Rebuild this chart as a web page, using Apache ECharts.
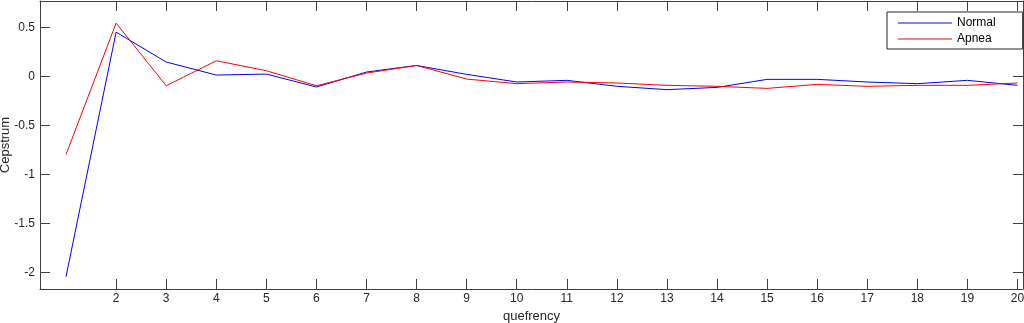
<!DOCTYPE html>
<html>
<head>
<meta charset="utf-8">
<script src="https://cdn.jsdelivr.net/npm/echarts@6/dist/echarts.min.js"></script>
<style>
  html, body { margin: 0; padding: 0; background: #fff; }
  #chart { width: 1024px; height: 323px; }
</style>
</head>
<body>
<div id="chart"></div>
<script>
// quefrency index 1..20
const quefrency = [1, 2, 3, 4, 5, 6, 7, 8, 9, 10, 11, 12, 13, 14, 15, 16, 17, 18, 19, 20];
const normal = [-2.04, 0.455, 0.15, 0.017, 0.027, -0.105, 0.048, 0.115, 0.024, -0.054,
  -0.037, -0.098, -0.132, -0.109, -0.027, -0.027, -0.054, -0.071, -0.037, -0.088];
const apnea = [-0.794, 0.547, -0.092, 0.163, 0.061, -0.092, 0.037, 0.115, -0.024, -0.071,
  -0.054, -0.064, -0.088, -0.098, -0.119, -0.078, -0.098, -0.088, -0.088, -0.064];
const xTicks = [2, 3, 4, 5, 6, 7, 8, 9, 10, 11, 12, 13, 14, 15, 16, 17, 18, 19, 20];
const yTicks = [-2, -1.5, -1, -0.5, 0, 0.5];

const axisColor = "#404040";
const textStyle = { color: "#262626", fontFamily: "Liberation Sans, Arial", fontSize: 12 };
const nameStyle = { color: "#262626", fontFamily: "Liberation Sans, Arial", fontSize: 13 };

const xBase = {
  type: "value",
  min: 0.48,
  max: 20.11,
  axisLine: { show: true, onZero: false, lineStyle: { color: axisColor, width: 1 } },
  axisTick: { show: true, inside: true, length: 10, customValues: xTicks, lineStyle: { color: axisColor } },
  splitLine: { show: false },
};
const yBase = {
  type: "value",
  min: -2.167,
  max: 0.773,
  axisLine: { show: true, onZero: false, lineStyle: { color: axisColor, width: 1 } },
  axisTick: { show: true, inside: true, length: 10, customValues: yTicks, lineStyle: { color: axisColor } },
  splitLine: { show: false },
};

const pair = (xs, ys) => xs.map((x, i) => [x, ys[i]]);

const dom = document.getElementById("chart");
const myChart = echarts.init(dom, null, { renderer: "canvas" });
const option = {
  animation: false,
  backgroundColor: "#fff",
  grid: { left: 40, top: 1, right: 1, bottom: 34, containLabel: false, outerBoundsMode: "none" },
  legend: {
    orient: "vertical",
    left: 887,
    top: 12,
    data: ["Normal", "Apnea"],
    icon: "path://M0,0 L54,0 L54,1 L0,1 Z",
    itemWidth: 54,
    itemHeight: 1,
    itemGap: 4,
    padding: [5, 27, 4, 11],
    backgroundColor: "#fff",
    borderColor: "#262626",
    borderWidth: 1,
    borderRadius: 0,
    textStyle: { color: "#000", fontFamily: "Liberation Sans, Arial", fontSize: 12 },
  },
  xAxis: [
    Object.assign({}, xBase, {
      position: "bottom",
      name: "quefrency",
      nameLocation: "middle",
      nameGap: 21,
      nameTextStyle: nameStyle,
      axisLabel: Object.assign({ show: true, margin: 4, customValues: xTicks }, textStyle),
    }),
    Object.assign({}, xBase, { position: "top", axisLabel: { show: false } }),
  ],
  yAxis: [
    Object.assign({}, yBase, {
      position: "left",
      name: "Cepstrum",
      nameLocation: "middle",
      nameGap: 28,
      nameMoveOverlap: false,
      nameTextStyle: nameStyle,
      axisLabel: Object.assign({ show: true, margin: 5, customValues: yTicks }, textStyle),
    }),
    Object.assign({}, yBase, { position: "right", axisLabel: { show: false } }),
  ],
  series: [
    {
      name: "Normal",
      type: "line",
      data: pair(quefrency, normal),
      showSymbol: false,
      symbol: "none",
      color: "#0000ff",
      lineStyle: { color: "#0000ff", width: 1 },
    },
    {
      name: "Apnea",
      type: "line",
      data: pair(quefrency, apnea),
      showSymbol: false,
      symbol: "none",
      color: "#ff0000",
      lineStyle: { color: "#ff0000", width: 1 },
    },
  ],
};
myChart.setOption(option);
</script>
</body>
</html>
